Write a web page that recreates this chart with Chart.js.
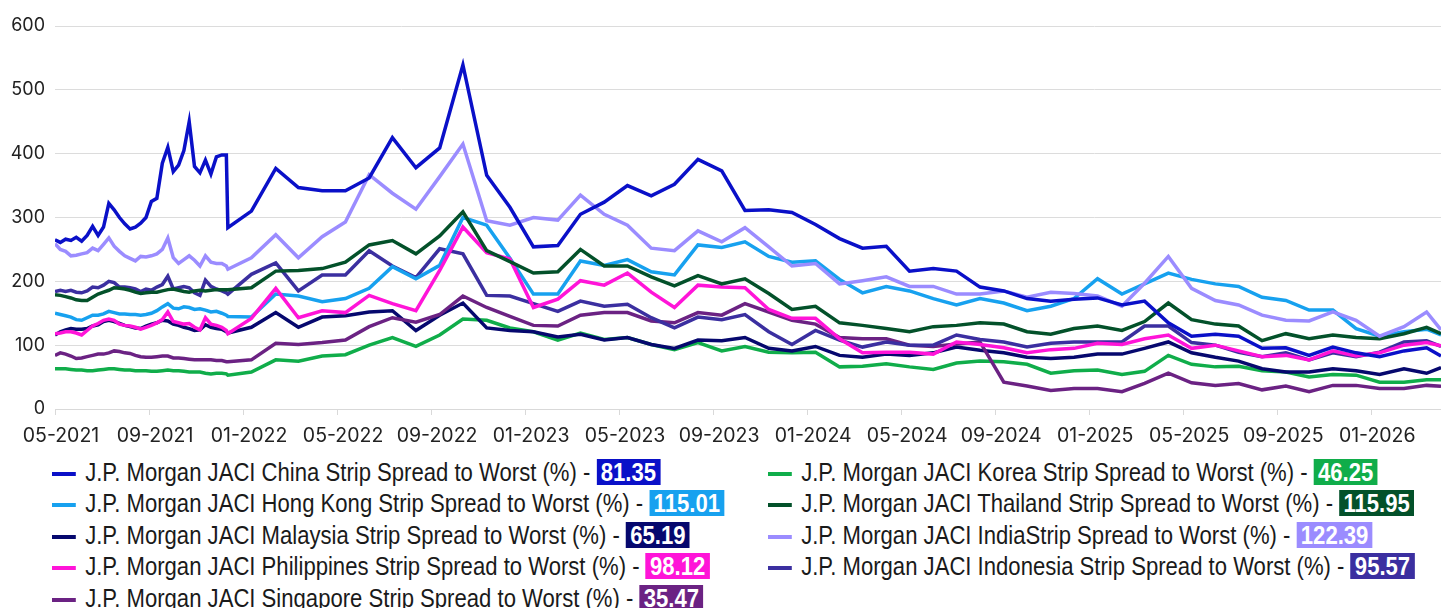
<!DOCTYPE html>
<html>
<head>
<meta charset="utf-8">
<script src="https://cdn.jsdelivr.net/npm/chart.js@4.4.1/dist/chart.umd.min.js"></script>
<style>
  body { margin: 0; background: #fff; width: 1441px; height: 608px; overflow: hidden; position: relative; font-family: "Liberation Sans", Arial, sans-serif; }
  #wrap { position: absolute; left: 0; top: 0; width: 1441px; height: 450px; }
  .row { position: absolute; height: 31px; line-height: 31px; white-space: nowrap; transform-origin: 0 50%; transform: scaleX(0.85); font-size: 26px; color: #1a1a1a; }
  .mark { display: inline-block; width: 28px; height: 4px; vertical-align: middle; margin-right: 11px; }
  .val { display: inline-block; color: #fff; font-weight: bold; padding: 0 5px; line-height: 26px; }
</style>
</head>
<body>
<div id="wrap"><canvas id="spreadChart"></canvas></div>
<div id="legend"></div>
<script>
// Observation dates: weekly until mid-Dec 2021, monthly after that
const dates = [
  '2021-05-01','2021-05-08','2021-05-15','2021-05-22','2021-05-29','2021-06-05','2021-06-12','2021-06-19','2021-06-26',
  '2021-07-03','2021-07-10','2021-07-17','2021-07-24','2021-07-31','2021-08-07','2021-08-14','2021-08-21','2021-08-28',
  '2021-09-04','2021-09-11','2021-09-18','2021-09-25','2021-10-02','2021-10-09','2021-10-16','2021-10-23','2021-10-30',
  '2021-11-06','2021-11-13','2021-11-20','2021-11-27','2021-12-04','2021-12-10',
  '2021-12-12',
  '2022-01-12','2022-02-12','2022-03-12','2022-04-12','2022-05-12','2022-06-12','2022-07-12','2022-08-12','2022-09-12','2022-10-12','2022-11-12','2022-12-12',
  '2023-01-12','2023-02-12','2023-03-12','2023-04-12','2023-05-12','2023-06-12','2023-07-12','2023-08-12','2023-09-12','2023-10-12','2023-11-12','2023-12-12',
  '2024-01-12','2024-02-12','2024-03-12','2024-04-12','2024-05-12','2024-06-12','2024-07-12','2024-08-12','2024-09-12','2024-10-12','2024-11-12','2024-12-12',
  '2025-01-12','2025-02-12','2025-03-12','2025-04-12','2025-05-12','2025-06-12','2025-07-12','2025-08-12','2025-09-12','2025-10-12','2025-11-12','2025-12-12',
  '2026-01-12','2026-02-12','2026-03-12',
  '2026-03-31'
];

const tickLabels = ['05-2021','09-2021','01-2022','05-2022','09-2022','01-2023','05-2023','09-2023','01-2024','05-2024','09-2024','01-2025','05-2025','09-2025','01-2026'];

// Spread to worst series
const china = [
  265,261,266,264,269,263,272,286,272,285,322,312,300,290,282,285,291,300,325,330,385,410,372,382,405,450,380,370,390,368,395,398,398,
  284,
  310,377,347,342,342,362,425,378,409,539,366,316,
  254,256,305,324,350,334,352,391,373,311,312,308,
  289,267,252,255,216,220,216,191,185,173,169,172,
  174,163,169,135,114,117,114,95,96,84,97,88,
  82,91,96,
  83
];
const hongKong = [
  150,148,146,144,140,139,143,147,147,149,153,151,149,149,148,148,147,148,150,154,160,165,158,157,160,159,156,157,155,152,153,150,147,
  145,
  144,180,177,168,173,189,223,204,225,300,288,236,
  180,180,232,225,234,215,210,257,253,262,239,230,
  232,203,182,192,185,173,163,173,166,154,161,173,
  204,180,196,213,203,196,192,175,170,155,155,126,
  114,121,125,
  116
];
const malaysia = [
  116,121,124,126,125,125,126,130,132,137,139,137,134,131,129,127,126,130,133,135,139,138,133,131,128,126,123,124,132,128,126,125,121,
  119,
  128,151,128,144,146,152,154,123,147,166,127,123,
  121,113,117,108,112,101,95,108,107,112,95,91,
  98,84,81,86,84,88,97,92,88,81,79,81,
  86,86,95,105,88,81,75,63,58,58,63,60,
  54,63,56,
  65
];
const philippines = [
  118,119,121,121,119,116,123,130,134,139,141,139,133,131,130,128,125,128,131,135,140,152,137,135,133,134,128,124,143,133,131,128,123,
  118,
  142,189,143,154,151,178,165,154,217,285,245,235,
  159,172,201,194,213,183,159,194,191,190,156,142,
  142,110,88,89,89,86,105,101,96,88,93,95,
  103,101,110,116,95,100,91,82,84,77,91,83,
  88,100,104,
  99
];
const singapore = [
  84,88,86,83,79,80,82,84,86,86,88,91,90,88,87,84,82,81,81,82,83,83,80,80,79,78,77,77,77,77,76,76,74,
  74,
  77,103,101,104,108,129,143,136,148,177,159,145,
  131,130,147,151,151,138,135,151,147,165,152,139,
  133,112,110,110,100,98,102,105,42,36,29,32,
  32,27,40,56,41,37,40,30,36,27,37,37,
  32,32,37,
  35.5
];
const korea = [
  63,63,63,62,61,61,60,60,61,62,63,63,62,61,61,60,60,60,59,59,60,61,60,60,59,58,58,58,56,55,56,56,55,
  53,
  58,77,75,83,85,100,112,98,116,141,139,127,
  121,108,119,109,112,101,93,104,91,98,89,88,
  89,66,67,71,66,62,72,75,74,70,56,60,
  61,54,59,84,70,66,67,60,58,50,54,53,
  42,42,46,
  46
];
const thailand = [
  179,178,176,174,171,170,170,175,180,183,186,190,189,188,186,183,181,182,183,183,185,187,188,186,184,183,185,186,185,186,187,187,187,
  187,
  190,216,217,220,230,257,264,243,271,309,248,231,
  213,215,250,224,224,207,193,209,196,204,181,156,
  161,135,131,126,121,129,131,135,133,121,117,126,
  130,123,137,166,140,133,130,107,118,110,116,112,
  110,118,128,
  118
];
const india = [
  259,250,247,240,241,243,245,252,248,258,268,255,247,240,236,232,239,238,240,243,250,268,237,228,234,240,233,224,240,230,228,228,224,
  219,
  237,273,237,270,293,367,338,313,364,415,295,288,
  300,296,335,305,288,252,248,279,262,284,254,224,
  228,196,201,207,192,192,180,180,185,175,183,181,
  177,161,197,239,189,170,163,147,139,138,152,139,
  114,129,152,
  124
];
const indonesia = [
  184,186,184,186,183,182,185,191,190,194,200,198,191,191,190,188,184,188,186,191,195,208,188,190,192,190,182,178,202,192,188,185,182,
  180,
  211,229,185,210,210,248,224,206,251,243,178,177,
  165,153,169,161,164,143,127,144,140,148,121,101,
  123,108,97,105,100,100,116,109,105,97,103,105,
  105,105,130,130,104,100,89,82,88,77,88,82,
  89,105,107,
  98
];

const latestLabels = ['81.35','115.01','65.19','98.12','35.47','46.25','115.95','122.39','95.57'];

const seriesInfo = [
  { name: 'J.P. Morgan JACI China Strip Spread to Worst (%)', data: china, color: '#0a10c8' },
  { name: 'J.P. Morgan JACI Hong Kong Strip Spread to Worst (%)', data: hongKong, color: '#17a1ef' },
  { name: 'J.P. Morgan JACI Malaysia Strip Spread to Worst (%)', data: malaysia, color: '#06086e' },
  { name: 'J.P. Morgan JACI Philippines Strip Spread to Worst (%)', data: philippines, color: '#ff14d8' },
  { name: 'J.P. Morgan JACI Singapore Strip Spread to Worst (%)', data: singapore, color: '#6b2283' },
  { name: 'J.P. Morgan JACI Korea Strip Spread to Worst (%)', data: korea, color: '#10ad4a' },
  { name: 'J.P. Morgan JACI Thailand Strip Spread to Worst (%)', data: thailand, color: '#03512a' },
  { name: 'J.P. Morgan JACI IndiaStrip Spread to Worst (%)', data: india, color: '#9b8cff' },
  { name: 'J.P. Morgan JACI Indonesia Strip Spread to Worst (%)', data: indonesia, color: '#3b2fa0' }
];

// month offset from May 2021, fractional by day
function monthIndex(str) {
  const [y, m, d] = str.split('-').map(Number);
  const dim = new Date(y, m, 0).getDate();
  return (y - 2021) * 12 + (m - 5) + (d - 1) / dim;
}
function labelIndex(lbl) {
  const [m, y] = lbl.split('-').map(Number);
  return (y - 2021) * 12 + (m - 5);
}

const xs = dates.map(monthIndex);

const ctx = document.getElementById('spreadChart').getContext('2d');
const drawOrder = [0, 7, 6, 3, 1, 8, 4, 2, 5];
new Chart(ctx, {
  type: 'line',
  data: {
    datasets: drawOrder.map(i => ({
      label: seriesInfo[i].name,
      data: seriesInfo[i].data.map((v, j) => ({ x: xs[j], y: v })),
      borderColor: seriesInfo[i].color,
      borderWidth: 3.5,
      pointRadius: 0,
      tension: 0,
      fill: false
    }))
  },
  options: {
    responsive: true,
    maintainAspectRatio: false,
    animation: false,
    layout: { padding: { top: 26, right: 0, bottom: 0, left: 0 } },
    plugins: { legend: { display: false }, tooltip: { enabled: false } },
    scales: {
      x: {
        type: 'linear',
        min: 0,
        max: xs[xs.length - 1],
        afterBuildTicks: scale => {
          scale.ticks = tickLabels.map(l => ({ value: labelIndex(l) }));
        },
        afterFit: scale => { scale.height = 41; },
        ticks: {
          font: { family: 'Inter', size: 19.5 },
          color: '#222',
          padding: 9,
          labelOffset: 6,
          maxRotation: 0,
          autoSkip: false,
          callback: (v, i) => tickLabels[i]
        },
        grid: { drawOnChartArea: false, drawTicks: true, tickLength: 6, color: '#d9d9d9' },
        border: { display: true, color: '#d9d9d9' }
      },
      y: {
        min: 0,
        max: 600,
        afterFit: scale => { scale.width = 55; },
        ticks: { stepSize: 100, font: { family: 'Inter', size: 18 }, color: '#222', padding: 10 },
        grid: { color: '#dcdcdc', drawTicks: false },
        border: { display: false }
      }
    }
  }
});

// HTML legend with latest value badges
const legend = document.getElementById('legend');
const rowTops = [456.5, 488, 519.5, 551, 582.5];
seriesInfo.forEach((s, i) => {
  const col = i < 5 ? 0 : 1;
  const r = i < 5 ? i : i - 5;
  const row = document.createElement('div');
  row.className = 'row';
  row.style.left = (col === 0 ? 52 : 768) + 'px';
  row.style.top = rowTops[r] + 'px';
  row.innerHTML = `<span class="mark" style="background:${s.color}"></span>${s.name} - <span class="val" style="background:${s.color}">${latestLabels[i]}</span>`;
  legend.appendChild(row);
});
</script>
</body>
</html>
